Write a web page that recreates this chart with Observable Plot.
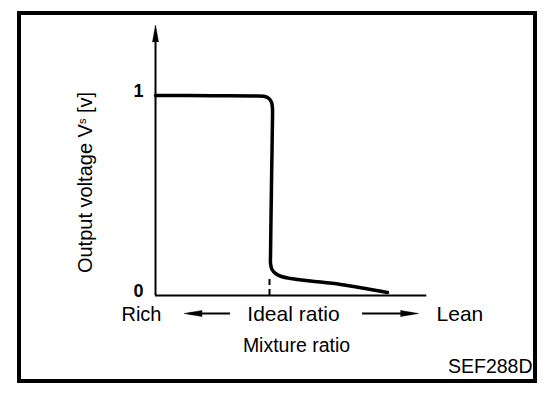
<!DOCTYPE html>
<html><head><meta charset="utf-8">
<script src="https://cdn.jsdelivr.net/npm/d3@7"></script>
<script src="https://cdn.jsdelivr.net/npm/@observablehq/plot@0.6"></script>
<style>
body{margin:0;background:#fff;}
#wrap{position:relative;width:560px;height:394px;}
#wrap svg{position:absolute;left:0;top:0;}
#frame{position:absolute;left:17px;top:11px;width:520px;height:372px;box-sizing:border-box;border:4px solid #000;pointer-events:none;}
</style></head><body>
<div id="wrap"><div id="frame"></div></div>
<script>
// Sensor output curve (x: mixture ratio relative to ideal = 1, y: output voltage in V)
const curveX = [0, 0.5, 0.88, 0.95, 0.995, 1.018, 1.026, 1.026, 1.02, 1.014, 1.009, 1.009, 1.022, 1.053, 1.105, 1.184, 1.36, 1.623, 2.035];
const curveY = [1.0, 0.999, 0.998, 0.996, 0.985, 0.965, 0.935, 0.875, 0.65, 0.42, 0.2, 0.16, 0.13, 0.11, 0.095, 0.085, 0.0725, 0.055, 0.015];
const yTicks = [0, 1];
const idealRatio = 1;
const xLabels = ["Rich", "Ideal ratio", "Lean"];
const xTitle = "Mixture ratio";
const yTitle = ["Output voltage V", "s", " [v]"];
const code = "SEF288D";

const curve = curveX.map((x, i) => ({x, y: curveY[i]}));
const font = "'Liberation Sans', Arial, Helvetica, sans-serif";
const rowY = -0.095;

const chart = Plot.plot({
  width: 560, height: 394,
  marginLeft: 155, marginRight: 6, marginTop: 0, marginBottom: 99,
  x: {domain: [0, 3.5], axis: null},
  y: {domain: [0, 1.475], axis: null},
  style: {fontFamily: font, color: "#000", background: "transparent", overflow: "visible"},
  marks: [
    // y axis with arrowhead
    Plot.ruleX([0], {y1: 0, y2: 1.3, stroke: "#000", strokeWidth: 2}),
    Plot.vector([{x: 0, y: 1.31}], {x: "x", y: "y", length: 17, r: 3, shape: "spike", rotate: 0, fill: "#000", stroke: "#000", strokeWidth: 0.5}),
    // x axis
    Plot.ruleY([0], {x1: 0, x2: 2.38, stroke: "#000", strokeWidth: 2}),
    // ideal ratio marker
    Plot.ruleX([idealRatio], {y1: 0, y2: 0.09, stroke: "#000", strokeWidth: 2, strokeDasharray: "6,4"}),
    // curve
    Plot.line(curve, {x: "x", y: "y", curve: "catmull-rom", stroke: "#000", strokeWidth: 3.5, strokeLinejoin: "round"}),
    // tick labels
    Plot.text(yTicks, {x: 0, y: d => d, text: d => String(d), dx: -12, dy: -4, textAnchor: "end", fontSize: 18, fontWeight: "bold", fill: "#000"}),
    // Rich / Ideal ratio / Lean row
    Plot.text([xLabels[0]], {x: -0.123, y: rowY, text: d => d, fontSize: 20, fill: "#000"}),
    Plot.text([xLabels[1]], {x: 1.21, y: rowY, text: d => d, fontSize: 21, fill: "#000"}),
    Plot.text([xLabels[2]], {x: 2.67, y: rowY, text: d => d, fontSize: 21, fill: "#000"}),
    // arrows in the row
    Plot.ruleY([rowY + 0.005], {x1: 0.3, x2: 0.658, stroke: "#000", strokeWidth: 2}),
    Plot.vector([{x: 0.33, y: rowY + 0.005}], {x: "x", y: "y", length: 18, r: 3, shape: "spike", rotate: -90, fill: "#000", stroke: "#000", strokeWidth: 0.5}),
    Plot.ruleY([rowY + 0.005], {x1: 1.816, x2: 2.25, stroke: "#000", strokeWidth: 2}),
    Plot.vector([{x: 2.228, y: rowY + 0.005}], {x: "x", y: "y", length: 18, r: 3, shape: "spike", rotate: 90, fill: "#000", stroke: "#000", strokeWidth: 0.5}),
    // x title
    Plot.text([xTitle], {x: 1.237, y: -0.25, text: d => d, fontSize: 19.5, fill: "#000"}),
    // y title
    Plot.text([yTitle.join("")], {x: -0.614, y: 0.565, text: d => d, rotate: -90, fontSize: 20, fill: "#000"}),
    // figure code
    Plot.text([code], {x: 3.307, y: -0.355, text: d => d, textAnchor: "end", fontSize: 19.5, fill: "#000"})
  ]
});

d3.select(chart).selectAll("text")
  .filter(function() { return this.textContent === yTitle.join(""); })
  .each(function() {
    const t = d3.select(this);
    t.text(null);
    t.append("tspan").text(yTitle[0]);
    t.append("tspan").attr("font-size", 11).attr("dy", -6).text(yTitle[1]);
    t.append("tspan").attr("dy", 6).text(yTitle[2]);
  });

document.getElementById("wrap").insertBefore(chart, document.getElementById("frame"));
</script>
</body></html>
